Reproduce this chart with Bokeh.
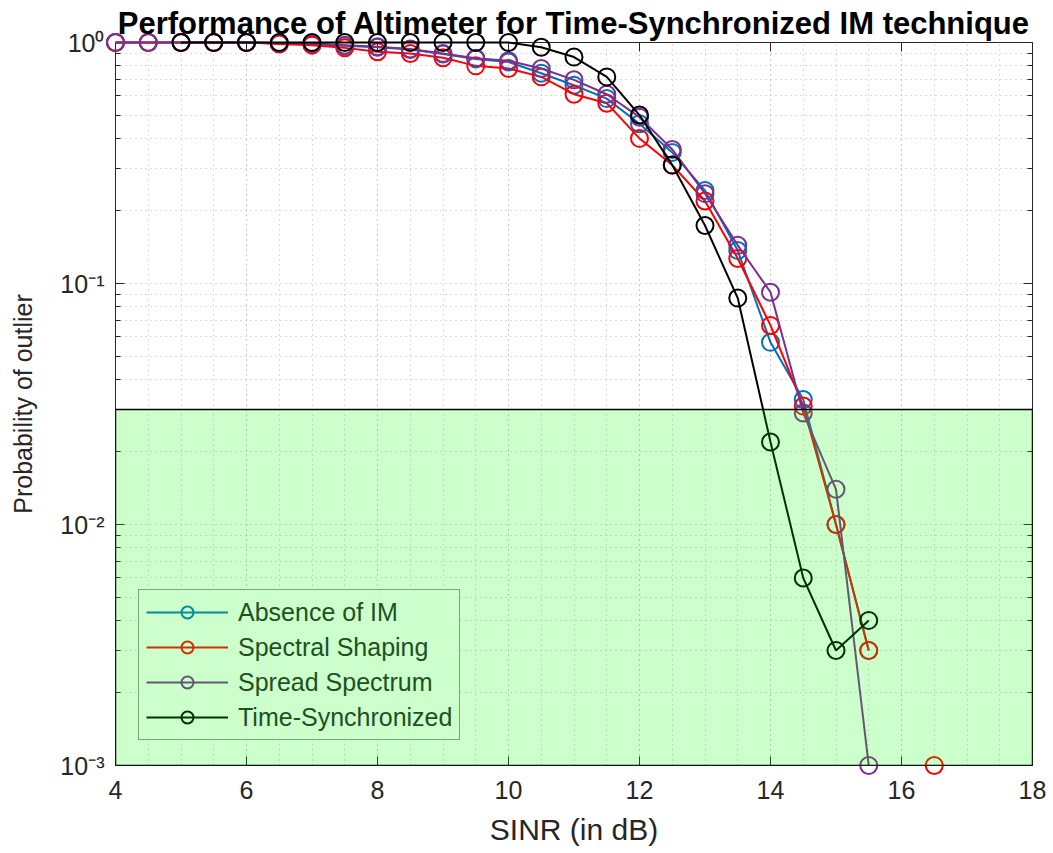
import numpy as np
from bokeh.plotting import figure
from bokeh.models import FixedTicker, LinearAxis, LogAxis, BoxAnnotation, Legend, LegendItem
from bokeh.embed import file_html
from bokeh.resources import INLINE

nan = float("nan")

# ---- data ----
sinr_db = [4.0, 4.5, 5.0, 5.5, 6.0, 6.5, 7.0, 7.5, 8.0, 8.5, 9.0, 9.5, 10.0,
           10.5, 11.0, 11.5, 12.0, 12.5, 13.0, 13.5, 14.0, 14.5, 15.0, 15.5, 16.0, 16.5]

absence_of_im = [1.0, 1.0, 1.0, 1.0, 1.0, 0.99, 0.985, 0.97, 0.955, 0.935, 0.895, 0.855, 0.83,
                 0.745, 0.665, 0.585, 0.46, 0.35, 0.243, 0.137, 0.057, 0.033, 0.010, 0.003, nan, nan]

spectral_shaping = [1.0, 1.0, 1.0, 1.0, 1.0, 0.985, 0.975, 0.95, 0.915, 0.90, 0.865, 0.80, 0.78,
                    0.72, 0.61, 0.56, 0.40, 0.31, 0.22, 0.127, 0.067, 0.031, 0.010, 0.003, nan, 0.001]

spread_spectrum = [1.0, 1.0, 1.0, 1.0, 1.0, 0.995, 0.99, 0.975, 0.96, 0.94, 0.90, 0.86, 0.84,
                   0.78, 0.70, 0.61, 0.49, 0.36, 0.236, 0.144, 0.092, 0.029, 0.014, 0.001, nan, nan]

time_synchronized = [nan, nan, 1.0, 1.0, 1.0, 1.0, 1.0, 1.0, 1.0, 1.0, 1.0, 1.0, 1.0,
                     0.955, 0.87, 0.72, 0.50, 0.31, 0.174, 0.087, 0.022, 0.006, 0.003, 0.004, nan, nan]

series_names = ["Absence of IM", "Spectral Shaping", "Spread Spectrum", "Time-Synchronized"]
series_colors = ["#0072BD", "#FF0000", "#7E2F8E", "#000000"]

x_tick_values = [4, 6, 8, 10, 12, 14, 16, 18]
x_tick_labels = ["4", "6", "8", "10", "12", "14", "16", "18"]
x_minor_ticks = [4 + 0.5 * i for i in range(29)]

y_tick_values = [0.001, 0.01, 0.1, 1.0]
y_tick_labels = ["10\u207b\u00b3", "10\u207b\u00b2", "10\u207b\u00b9", "10\u2070"]
y_minor_ticks = [m * 10.0 ** e for e in (-3, -2, -1) for m in range(2, 10)]

outlier_threshold = 0.03
region_bottom = 0.001
region_alpha = 0.2
region_rgb = (0, 255, 0)

FONT = "Liberation Sans"
AX = "#262626"


def tint(hex_color):
    """Colour as seen through the translucent green acceptance region."""
    h = hex_color.lstrip("#")
    c = [int(h[i:i + 2], 16) for i in (0, 2, 4)]
    t = [round((1 - region_alpha) * a + region_alpha * b) for a, b in zip(c, region_rgb)]
    return "#%02x%02x%02x" % tuple(t)


p = figure(width=1053, height=853, x_range=(4, 18), y_range=(0.001, 1.0),
           y_axis_type="log", output_backend="svg", toolbar_location=None,
           min_border_left=115, min_border_right=21, min_border_top=42,
           min_border_bottom=88, background_fill_color="white",
           border_fill_color="white")

p.title.text = "Performance of Altimeter for Time-Synchronized IM technique"
p.title.text_font = FONT
p.title.text_font_size = "31px"
p.title.text_font_style = "bold"
p.title.text_color = "black"
p.title.align = "center"
p.title.standoff = 4

p.outline_line_color = AX
p.outline_line_width = 1

x_ticker = FixedTicker(ticks=x_tick_values, minor_ticks=x_minor_ticks)
y_ticker = FixedTicker(ticks=y_tick_values, minor_ticks=y_minor_ticks)

xa = p.xaxis[0]
xa.ticker = x_ticker
xa.major_label_overrides = {v: s for v, s in zip(x_tick_values, x_tick_labels)}
ya = p.yaxis[0]
ya.ticker = y_ticker
ya.major_label_overrides = {v: s for v, s in zip(y_tick_values, y_tick_labels)}

top_ax = LinearAxis(ticker=x_ticker)
right_ax = LogAxis(ticker=y_ticker)
p.add_layout(top_ax, "above")
p.add_layout(right_ax, "right")

for ax in (xa, ya, top_ax, right_ax):
    ax.axis_line_color = AX
    ax.axis_line_width = 1
    ax.major_tick_in = 9
    ax.major_tick_out = 0
    ax.minor_tick_in = 5
    ax.minor_tick_out = 0
    ax.major_tick_line_color = AX
    ax.minor_tick_line_color = AX
    ax.major_label_text_font = FONT
    ax.major_label_text_font_size = "25px"
    ax.major_label_text_color = AX

for ax in (xa, top_ax):
    ax.minor_tick_line_color = None

for ax in (top_ax, right_ax):
    ax.major_label_text_font_size = "1px"
    ax.major_label_text_color = None
    ax.major_label_standoff = 0

xa.major_label_standoff = 15
ya.major_label_standoff = 11

xa.axis_label = "SINR (in dB)"
xa.axis_label_text_font = FONT
xa.axis_label_text_font_size = "30px"
xa.axis_label_text_font_style = "normal"
xa.axis_label_text_color = AX
xa.axis_label_standoff = 11

ya.axis_label = "Probability of outlier"
ya.axis_label_text_font = FONT
ya.axis_label_text_font_size = "25px"
ya.axis_label_text_font_style = "normal"
ya.axis_label_text_color = AX
ya.axis_label_standoff = 20

for g in (p.xgrid[0], p.ygrid[0]):
    g.grid_line_color = "#b9b9b9"
    g.grid_line_dash = "1 4"
    g.grid_line_width = 1
    g.minor_grid_line_color = "#b9b9b9"
    g.minor_grid_line_dash = "1 4"
    g.minor_grid_line_width = 1

x = np.array(sinr_db, dtype=float)
all_series = [absence_of_im, spectral_shaping, spread_spectrum, time_synchronized]
items = []
no_point = np.array([nan])
for name, color, vals in zip(series_names, series_colors, all_series):
    y = np.array(vals, dtype=float)
    rl = p.line(x, y, line_color=color, line_width=2)
    rs = p.scatter(x, y, marker="circle", size=17, fill_color=None, line_color=color,
                   line_width=2)
    rl.level = "annotation"
    rs.level = "annotation"
    # legend swatches drawn in the colour seen through the green region
    kl = p.line(no_point, no_point, line_color=tint(color), line_width=2)
    ks = p.scatter(no_point, no_point, marker="circle", size=17, fill_color=None,
                   line_color=tint(color), line_width=2)
    items.append(LegendItem(label=name, renderers=[kl, ks]))

lg = Legend(items=items, location=(23, 25))
lg.label_text_font = FONT
lg.label_text_font_size = "25px"
lg.label_text_color = tint(AX)
lg.glyph_width = 82
lg.glyph_height = 30
lg.label_height = 30
lg.spacing = 5
lg.padding = 7
lg.margin = 0
lg.label_standoff = 10
lg.border_line_color = tint(AX)
lg.border_line_width = 1
lg.background_fill_color = tint("#ffffff")
lg.background_fill_alpha = 1.0
p.add_layout(lg, "center")

region = BoxAnnotation(bottom=region_bottom, top=outlier_threshold,
                       fill_color="#00ff00", fill_alpha=region_alpha,
                       line_color="black", line_width=1.5, line_alpha=1.0,
                       level="overlay")
p.add_layout(region)

open("out.html", "w").write(file_html(p, INLINE))
